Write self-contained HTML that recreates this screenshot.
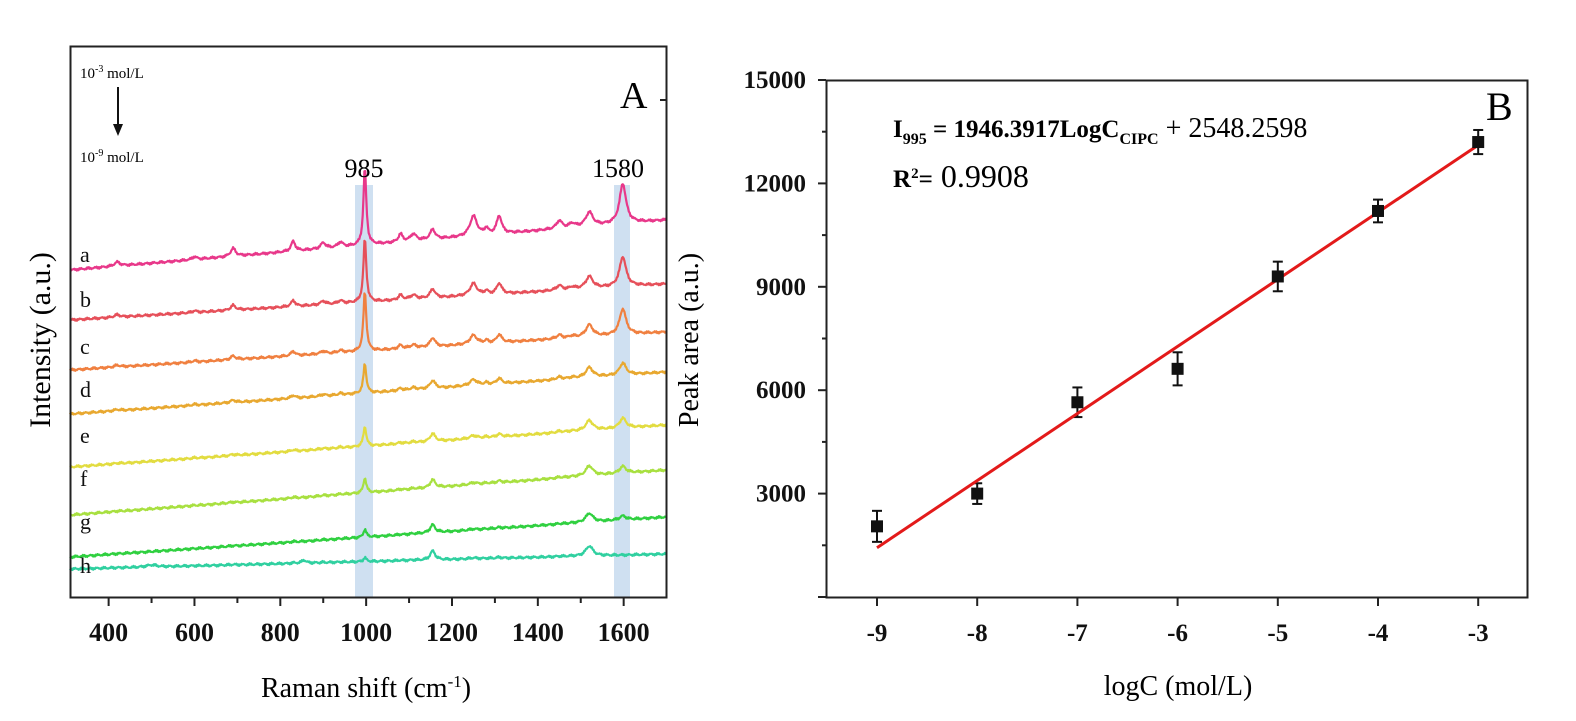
<!DOCTYPE html>
<html><head><meta charset="utf-8"><style>
body{margin:0;background:#fff;}
svg text{font-family:"Liberation Serif",serif;}
</style></head><body>
<svg id="s" width="1576" height="716" viewBox="0 0 1576 716" xmlns="http://www.w3.org/2000/svg">
<rect width="1576" height="716" fill="#fff"/>
<rect x="355" y="185" width="18" height="413" fill="#cfe0f1"/>
<rect x="614" y="185" width="16" height="413" fill="#cfe0f1"/>
<g id="spec"></g>
<rect x="70.5" y="46.5" width="596" height="551" fill="none" stroke="#222" stroke-width="2"/>
<g id="ta" stroke="#222" stroke-width="2"></g>
<g font-size="26" font-weight="bold" text-anchor="middle" fill="#111" id="la"></g>
<text x="366" y="697" font-size="28" text-anchor="middle">Raman shift (cm<tspan dy="-10" font-size="17">-1</tspan><tspan dy="10">)</tspan></text>
<text transform="translate(50,340) rotate(-90)" font-size="30" text-anchor="middle">Intensity (a.u.)</text>
<text x="80" y="78" font-size="15">10<tspan dy="-6" font-size="10">-3</tspan><tspan dy="6"> mol/L</tspan></text>
<line x1="118" y1="87" x2="118" y2="128" stroke="#111" stroke-width="2"/>
<path d="M113,124 L118,136 L123,124 Z" fill="#111"/>
<text x="80" y="162" font-size="15">10<tspan dy="-6" font-size="10">-9</tspan><tspan dy="6"> mol/L</tspan></text>
<text x="620" y="108" font-size="38">A</text>
<text x="364" y="177" font-size="26" text-anchor="middle">985</text>
<text x="618" y="177" font-size="26" text-anchor="middle">1580</text>
<g font-size="22" fill="#111">
<text x="80" y="262">a</text><text x="80" y="307">b</text><text x="80" y="354">c</text><text x="80" y="397">d</text>
<text x="80" y="443">e</text><text x="80" y="486">f</text><text x="80" y="529">g</text><text x="80" y="573">h</text>
</g>
<rect x="826.5" y="80.5" width="701" height="517" fill="none" stroke="#222" stroke-width="2"/>
<g id="tb" stroke="#222" stroke-width="2"></g>
<g id="lb" font-size="25" font-weight="bold" fill="#111"></g>
<text x="1178" y="695" font-size="28" text-anchor="middle">logC (mol/L)</text>
<text transform="translate(698,340) rotate(-90)" font-size="28" text-anchor="middle">Peak area (a.u.)</text>
<text x="1486" y="120" font-size="40">B</text>
<text x="893" y="137" font-size="25"><tspan font-weight="bold">I<tspan dy="7" font-size="16">995</tspan><tspan dy="-7"> = 1946.3917LogC</tspan><tspan dy="7" font-size="16">CIPC</tspan></tspan><tspan dy="-7" font-size="28"> + 2548.2598</tspan></text>
<text x="893" y="187" font-size="25"><tspan font-weight="bold">R<tspan dy="-9" font-size="15">2</tspan><tspan dy="9">=</tspan></tspan><tspan font-size="32"> 0.9908</tspan></text>
<g id="pts"></g>
</svg>
<script>
var NS="http://www.w3.org/2000/svg";
function el(p,t,a,txt){var e=document.createElementNS(NS,t);for(var k in a)e.setAttribute(k,a[k]);if(txt!=null)e.textContent=txt;document.getElementById(p).appendChild(e);return e;}
function X(v){return 70+(v-310)*0.4292;}
for(var v=400;v<=1600;v+=100){var x=X(v);el('ta','line',{x1:x,y1:597,x2:x,y2:v%200==0?606:603});if(v%200==0)el('la','text',{x:x,y:641},String(v));}
el('ta','line',{x1:666,y1:100,x2:660,y2:100});
var ser=[
["#e8388a",270,220,78,40,1,14,10],
["#e6505a",320,284,64,30,0.6,12,9],
["#f08040",370,332,60,26,0.45,12,9],
["#e8a830",414,372,30,12,0.3,10,8],
["#e2dc40",467,425,20,10,0.15,10,8],
["#a8e040",515,470,15,7,0.1,10,8],
["#30d040",557,517,8,4,0.05,9,8],
["#30d0a0",569,554,4,0,0.05,10,9]];
var oth=[[420,4,8],[600,3,6],[690,8,7],[830,10,6],[900,6,7],[940,5,7],[1080,8,6],[1110,7,8],[1250,20,10],[1280,6,5],[1310,18,7],[1450,8,8],[1480,4,8]];
function L(x,c,w){var d=(x-c)/w;return 1/(1+d*d);}
ser.forEach(function(s,i){
 var d="",seed=i*7;
 for(var v=310;v<=1700;v+=2){
  var y=s[1]+(s[2]-s[1])*(v-310)/1390;
  var p=s[3]*L(v,997,4)+s[4]*L(v,1598,9)+s[6]*L(v,1520,10)+s[7]*L(v,1155,7);
  oth.forEach(function(o){p+=s[5]*o[1]*L(v,o[0],o[2]);});
  if(i==7){p+=3*L(v,855,6)+2*L(v,500,15);}
  var n=Math.sin(v*1.7+seed)*0.7+Math.sin(v*0.37+seed)*0.6;
  d+=(d?"L":"M")+X(v).toFixed(1)+","+(y-p+n).toFixed(1);
 }
 el('spec','path',{d:d,fill:"none",stroke:s[0],"stroke-width":2.2,"stroke-linejoin":"round"});
});
function BX(v){return 877+(v+9)*100.2;}
function BY(v){return 597-v*517/15000;}
for(var t=0;t<=15000;t+=1500){var y=BY(t);el('tb','line',{x1:826,y1:y,x2:t%3000==0?818:822,y2:y});if(t%3000==0&&t>0)el('lb','text',{x:806,y:y+8,"text-anchor":"end"},String(t));}
for(var k=-9;k<=-3;k++){var x=BX(k);el('tb','line',{x1:x,y1:597,x2:x,y2:606});el('lb','text',{x:x,y:641,"text-anchor":"middle"},String(k));}
var P=[[-9,2050,450],[-8,3000,300],[-7,5650,430],[-6,6620,480],[-5,9300,430],[-4,11200,330],[-3,13200,350]];
P.forEach(function(p){var x=BX(p[0]);
 el('pts','line',{x1:x,y1:BY(p[1]-p[2]),x2:x,y2:BY(p[1]+p[2]),stroke:"#111","stroke-width":2});
 el('pts','line',{x1:x-5,y1:BY(p[1]-p[2]),x2:x+5,y2:BY(p[1]-p[2]),stroke:"#111","stroke-width":2});
 el('pts','line',{x1:x-5,y1:BY(p[1]+p[2]),x2:x+5,y2:BY(p[1]+p[2]),stroke:"#111","stroke-width":2});
});
el('pts','line',{x1:BX(-9),y1:BY(1430),x2:BX(-3),y2:BY(13110),stroke:"#e31a1a","stroke-width":3});
P.forEach(function(p){var x=BX(p[0]);el('pts','rect',{x:x-6,y:BY(p[1])-6,width:12,height:12,fill:"#111"});});
</script>
</body></html>
